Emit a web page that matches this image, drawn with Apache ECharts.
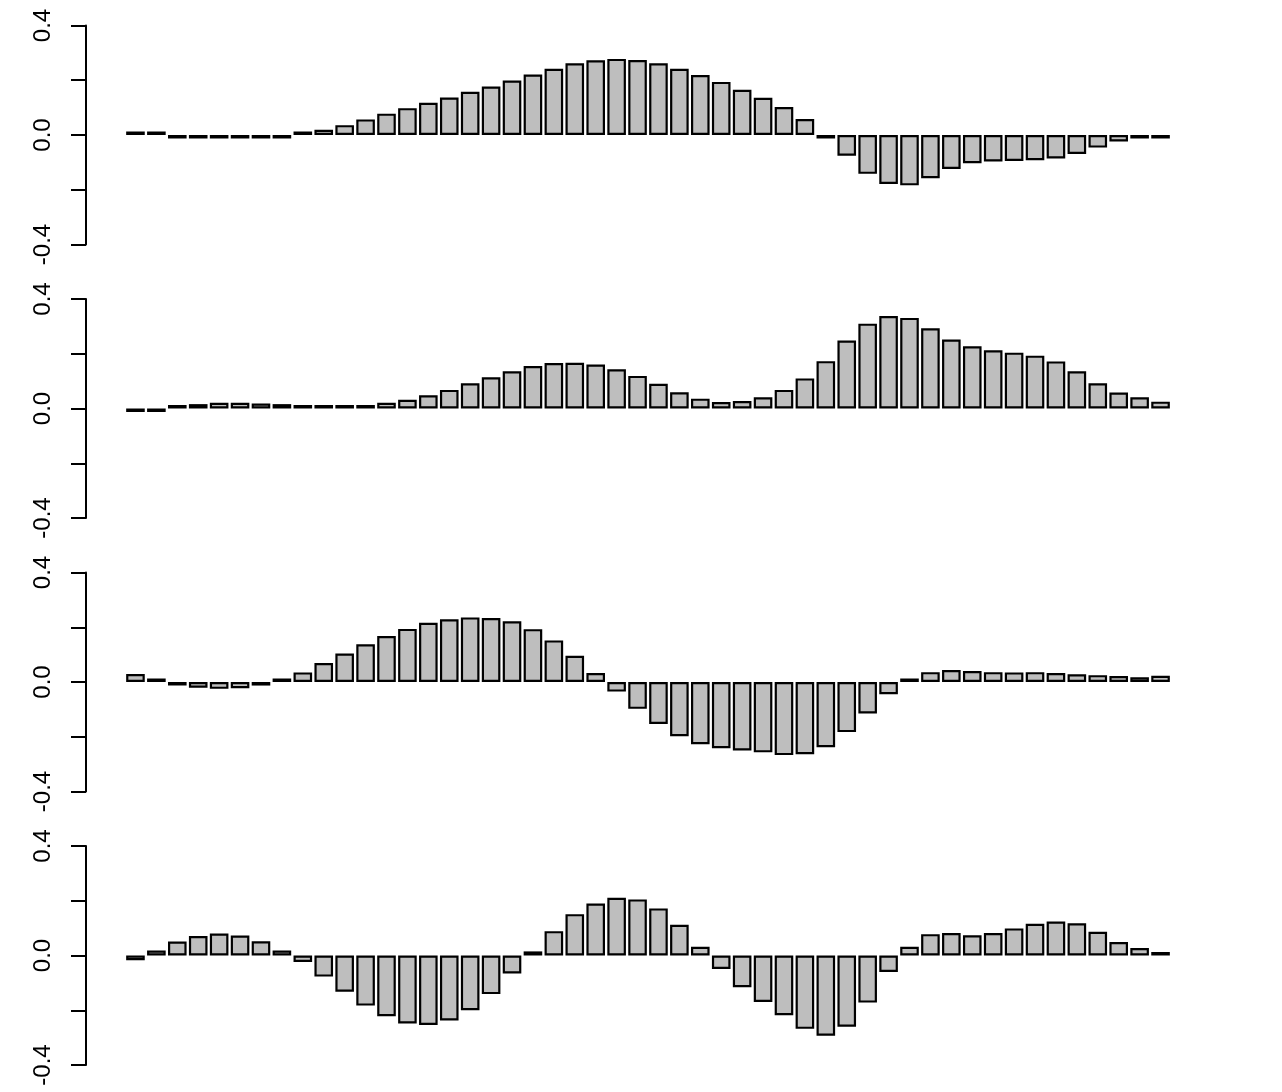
<!DOCTYPE html>
<html>
<head>
<meta charset="utf-8">
<script src="https://cdn.jsdelivr.net/npm/echarts@6/dist/echarts.min.js"></script>
<style>
html,body{margin:0;padding:0;background:#fff;}
#chart{width:1282px;height:1092px;}
</style>
</head>
<body>
<div id="chart"></div>
<script>
var categories = [];
for (var c = 1; c <= 50; c++) categories.push(String(c));

var yTicks = [-0.4, 0.0, 0.4];

var panel1 = [0.005, 0.004, -0.002, -0.003, -0.003, -0.003, -0.003, -0.002, 0.005, 0.019,
              0.036, 0.057, 0.078, 0.098, 0.118, 0.137, 0.158, 0.177, 0.199, 0.221,
              0.242, 0.262, 0.273, 0.278, 0.274, 0.262, 0.242, 0.219, 0.194, 0.165,
              0.136, 0.102, 0.058, -0.004, -0.076, -0.142, -0.179, -0.184, -0.158, -0.124,
              -0.103, -0.097, -0.095, -0.092, -0.086, -0.069, -0.046, -0.024, -0.012, -0.003];

var panel2 = [-0.004, -0.002, 0.004, 0.016, 0.021, 0.021, 0.018, 0.016, 0.010, 0.007,
              0.007, 0.010, 0.021, 0.032, 0.048, 0.068, 0.092, 0.114, 0.136, 0.155,
              0.166, 0.167, 0.161, 0.143, 0.119, 0.090, 0.059, 0.036, 0.024, 0.027,
              0.041, 0.068, 0.110, 0.173, 0.248, 0.310, 0.338, 0.331, 0.293, 0.252,
              0.227, 0.213, 0.204, 0.193, 0.172, 0.136, 0.092, 0.058, 0.041, 0.025];

var panel3 = [0.029, 0.012, -0.005, -0.021, -0.025, -0.023, -0.013, 0.006, 0.035, 0.069,
              0.104, 0.138, 0.168, 0.194, 0.216, 0.229, 0.236, 0.234, 0.222, 0.193,
              0.152, 0.096, 0.033, -0.035, -0.098, -0.153, -0.198, -0.227, -0.242, -0.250,
              -0.257, -0.267, -0.264, -0.238, -0.183, -0.115, -0.045, 0.006, 0.036, 0.044,
              0.040, 0.036, 0.035, 0.036, 0.033, 0.028, 0.025, 0.022, 0.017, 0.023];

var panel4 = [-0.017, 0.018, 0.051, 0.071, 0.080, 0.073, 0.052, 0.018, -0.024, -0.077,
              -0.132, -0.183, -0.222, -0.248, -0.254, -0.237, -0.200, -0.141, -0.066, 0.015,
              0.089, 0.151, 0.190, 0.211, 0.205, 0.172, 0.112, 0.032, -0.049, -0.116,
              -0.170, -0.218, -0.268, -0.293, -0.260, -0.172, -0.060, 0.032, 0.078, 0.082,
              0.074, 0.082, 0.099, 0.116, 0.124, 0.118, 0.087, 0.049, 0.027, 0.004];

var panels = [panel1, panel2, panel3, panel4];

var grids = [], xAxes = [], yAxes = [], series = [];
for (var k = 0; k < panels.length; k++) {
  grids.push({left: 125, width: 1046, top: 25.5 + 273.5 * k, height: 219});
  xAxes.push({type: 'category', gridIndex: k, data: categories, show: false});
  yAxes.push({
    type: 'value', gridIndex: k, min: -0.4, max: 0.4, interval: 0.2,
    position: 'left', offset: 39,
    axisLine: {show: true, lineStyle: {color: '#000', width: 2}},
    axisTick: {show: true, length: 15, lineStyle: {color: '#000', width: 2}},
    splitLine: {show: false},
    axisLabel: {
      show: true, rotate: 90, margin: 31, color: '#000',
      fontFamily: 'Liberation Sans, Arial, sans-serif', fontSize: 24,
      formatter: function (v) {
        for (var i = 0; i < yTicks.length; i++) {
          if (Math.abs(v - yTicks[i]) < 1e-9) return yTicks[i].toFixed(1);
        }
        return '';
      }
    }
  });
  series.push({
    type: 'bar', xAxisIndex: k, yAxisIndex: k, data: panels[k],
    barWidth: 18.6, barMinHeight: 3.5,
    itemStyle: {color: '#BEBEBE', borderColor: '#000', borderWidth: 2.2},
    animation: false, silent: true
  });
}

var chart = echarts.init(document.getElementById('chart'), null, {renderer: 'canvas'});
chart.setOption({
  backgroundColor: '#fff',
  animation: false,
  grid: grids,
  xAxis: xAxes,
  yAxis: yAxes,
  series: series
});
</script>
</body>
</html>
